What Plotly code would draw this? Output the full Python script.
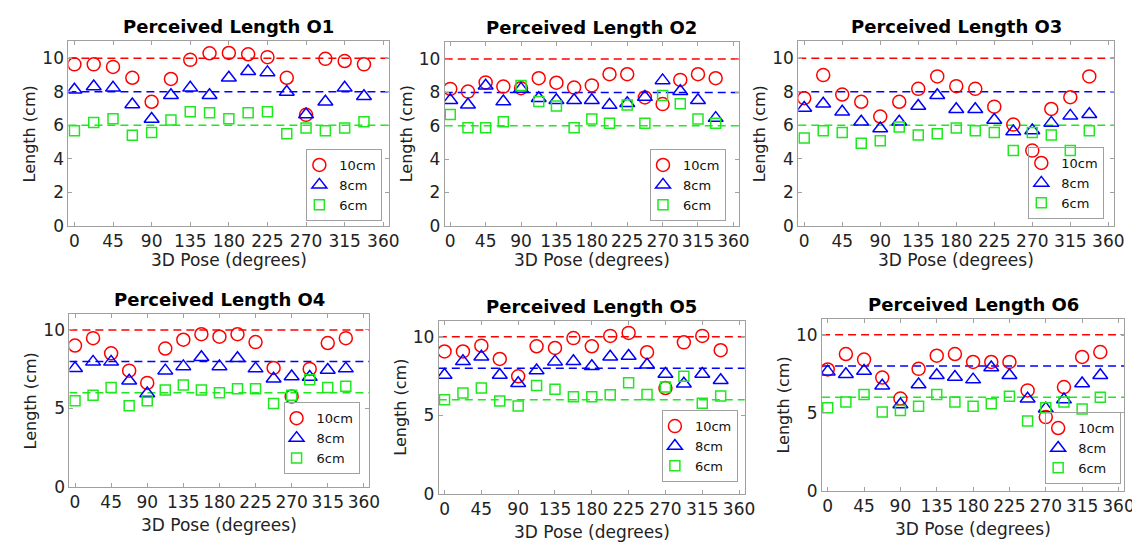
import plotly.graph_objects as go

# ---------------- data ----------------
poses = [0, 22.5, 45, 67.5, 90, 112.5, 135, 157.5, 180, 202.5, 225, 247.5, 270, 292.5, 315, 337.5]
targets = [10, 8, 6]
series_names = ["10cm", "8cm", "6cm"]
titles = ["Perceived Length O1", "Perceived Length O2", "Perceived Length O3",
          "Perceived Length O4", "Perceived Length O5", "Perceived Length O6"]
x_tick_vals = [0, 45, 90, 135, 180, 225, 270, 315, 360]
y_ticks_top = [0, 2, 4, 6, 8, 10]
y_ticks_bottom = [0, 5, 10]
x_range = [-7, 367]
y_range = [0, 11]

o1_10 = [9.63, 9.63, 9.48, 8.83, 7.40, 8.76, 9.90, 10.29, 10.31, 10.23, 10.06, 8.83, 6.62, 9.96, 9.83, 9.63]
o1_8 = [8.12, 8.31, 8.23, 7.24, 6.37, 7.79, 8.23, 7.79, 8.83, 9.22, 9.15, 7.98, 6.64, 7.40, 8.23, 7.73]
o1_6 = [5.67, 6.16, 6.39, 5.40, 5.57, 6.31, 6.80, 6.74, 6.39, 6.74, 6.80, 5.50, 5.83, 5.67, 5.83, 6.21]

o2_10 = [8.21, 8.05, 8.60, 8.35, 8.25, 8.85, 8.58, 8.29, 8.42, 9.09, 9.09, 7.70, 7.30, 8.75, 9.09, 8.85]
o2_8 = [7.53, 7.26, 8.40, 7.45, 8.21, 7.65, 7.53, 7.53, 7.53, 7.24, 7.35, 7.72, 8.72, 8.07, 7.53, 6.46]
o2_6 = [6.67, 5.88, 5.88, 6.25, 8.42, 7.45, 7.18, 5.88, 6.40, 6.15, 7.24, 6.15, 7.82, 7.32, 6.40, 6.15]

o3_10 = [7.61, 8.99, 7.83, 7.40, 6.52, 7.40, 8.17, 8.91, 8.33, 8.17, 7.11, 6.04, 4.49, 6.97, 7.67, 8.91]
o3_8 = [7.03, 7.28, 6.80, 6.21, 5.81, 6.21, 7.15, 7.79, 6.95, 6.95, 6.31, 5.63, 5.69, 6.14, 6.56, 6.66]
o3_6 = [5.24, 5.67, 5.57, 4.93, 5.07, 5.90, 5.42, 5.50, 5.83, 5.67, 5.57, 4.49, 5.57, 5.42, 4.49, 5.67]

o4_10 = [9.01, 9.48, 8.51, 7.41, 6.63, 8.82, 9.38, 9.73, 9.57, 9.73, 9.23, 7.58, 5.76, 7.52, 9.17, 9.48]
o4_8 = [7.56, 7.97, 7.97, 6.77, 5.96, 7.41, 7.68, 8.26, 7.68, 8.20, 7.54, 6.89, 7.04, 7.00, 7.45, 7.54]
o4_6 = [5.49, 5.84, 6.34, 5.18, 5.49, 6.17, 6.50, 6.17, 6.00, 6.25, 6.25, 5.32, 5.84, 6.83, 6.34, 6.42]

o5_10 = [9.07, 9.07, 9.44, 8.59, 7.49, 9.40, 9.29, 9.92, 9.40, 10.06, 10.25, 9.02, 6.74, 9.65, 10.06, 9.15]
o5_8 = [7.57, 8.44, 8.73, 7.57, 7.05, 7.86, 8.42, 8.44, 8.13, 8.73, 8.78, 8.22, 7.63, 7.01, 7.63, 7.24]
o5_6 = [6.00, 6.43, 6.74, 5.91, 5.60, 6.91, 6.66, 6.18, 6.18, 6.31, 7.07, 6.33, 6.80, 7.49, 5.77, 6.24]

o6_10 = [7.78, 8.77, 8.41, 7.26, 5.92, 7.82, 8.66, 8.77, 8.26, 8.26, 8.26, 6.44, 4.73, 6.65, 8.58, 8.89]
o6_8 = [7.64, 7.47, 7.68, 6.74, 5.54, 6.82, 7.41, 7.30, 7.13, 7.91, 7.41, 5.90, 5.27, 5.85, 6.88, 7.41]
o6_6 = [5.33, 5.69, 6.17, 5.06, 5.15, 5.42, 6.17, 5.69, 5.42, 5.59, 6.07, 4.48, 5.33, 5.69, 5.25, 6.00]

panel_data = [
    [o1_10, o1_8, o1_6],
    [o2_10, o2_8, o2_6],
    [o3_10, o3_8, o3_6],
    [o4_10, o4_8, o4_6],
    [o5_10, o5_8, o5_6],
    [o6_10, o6_8, o6_6],
]

# ---------------- styling / layout ----------------
W, H = 1140, 544
# plot boxes in pixels: left, right, top, bottom
boxes = [
    (61, 385, 34, 222),
    (441, 738, 35, 222),
    (798, 1117, 34, 222),
    (62, 365, 312, 488),
    (435, 744, 319, 495),
    (822, 1127, 317, 492),
]
# legend box right/bottom in pixels
legend_rb = [(378, 217), (725, 217), (1107, 215), (355, 475), (737, 483), (1124, 485)]

colors = ["#ff0000", "#0000ff", "#1ee81e"]
symbols = ["circle-open", "triangle-up-open", "square-open"]
msizes = [13, 13, 10]
axis_grey = "#a0a0a0"
font_fam = "DejaVu Sans"


def px_x(p):
    return p / W


def px_y(p):
    return 1 - p / H


fig = go.Figure()
layout = dict(
    width=W, height=H, margin=dict(l=0, r=0, t=0, b=0),
    paper_bgcolor="white", plot_bgcolor="white", showlegend=True,
    annotations=[],
)

for i, (data, box) in enumerate(zip(panel_data, boxes)):
    n = i + 1
    xa = "x" if n == 1 else f"x{n}"
    ya = "y" if n == 1 else f"y{n}"
    leg = "legend" if n == 1 else f"legend{n}"
    left, right, top, bottom = box

    for j in range(3):
        fig.add_trace(go.Scatter(
            x=x_range, y=[targets[j], targets[j]], mode="lines",
            line=dict(color=colors[j], width=1.5, dash="8px,5px"),
            xaxis=xa, yaxis=ya, showlegend=False, hoverinfo="skip",
        ))
    for j in range(3):
        fig.add_trace(go.Scatter(
            x=poses, y=data[j], mode="markers", name=series_names[j],
            marker=dict(symbol=symbols[j], size=msizes[j], color=colors[j],
                        line=dict(width=1.5, color=colors[j])),
            xaxis=xa, yaxis=ya, legend=leg,
        ))

    key = "" if n == 1 else str(n)
    common = dict(showline=True, linecolor=axis_grey, linewidth=1, mirror="ticks",
                  ticks="inside", ticklen=4, tickcolor=axis_grey, showgrid=False,
                  zeroline=False, fixedrange=True,
                  tickfont=dict(family=font_fam, size=17, color="#222222"))
    layout["xaxis" + key] = dict(
        domain=[px_x(left), px_x(right)], anchor=ya, range=x_range,
        tickmode="array", tickvals=x_tick_vals, **common)
    layout["yaxis" + key] = dict(
        domain=[px_y(bottom), px_y(top)], anchor=xa, range=y_range,
        tickmode="array", tickvals=y_ticks_top if n <= 3 else y_ticks_bottom, **common)

    rx, by = legend_rb[i]
    layout[leg] = dict(
        x=px_x(rx), y=px_y(by), xanchor="right", yanchor="bottom",
        xref="paper", yref="paper",
        bordercolor=axis_grey, borderwidth=1, bgcolor="rgba(255,255,255,0)",
        font=dict(family=font_fam, size=13, color="#111111"),
        itemwidth=30, tracegroupgap=0, indentation=-8,
    )

    cx = (left + right) / 2
    # title
    layout["annotations"].append(dict(
        text=f"<b>{titles[i]}</b>", x=px_x(cx), y=px_y(top), xref="paper", yref="paper",
        xanchor="center", yanchor="bottom", yshift=2, showarrow=False,
        font=dict(family=font_fam, size=18, color="black")))
    # x title
    xoff = 35 if n <= 3 else 39
    layout["annotations"].append(dict(
        text="3D Pose (degrees)", x=px_x(cx), y=px_y(bottom + xoff), xref="paper", yref="paper",
        xanchor="center", yanchor="middle", showarrow=False,
        font=dict(family=font_fam, size=17, color="#222222")))
    # y title
    layout["annotations"].append(dict(
        text="Length (cm)", x=px_x(left - 39), y=px_y((top + bottom) / 2), xref="paper", yref="paper",
        xanchor="center", yanchor="middle", textangle=-90, showarrow=False,
        font=dict(family=font_fam, size=16, color="#222222")))

fig.update_layout(**layout)
fig.write_html("out.html")
